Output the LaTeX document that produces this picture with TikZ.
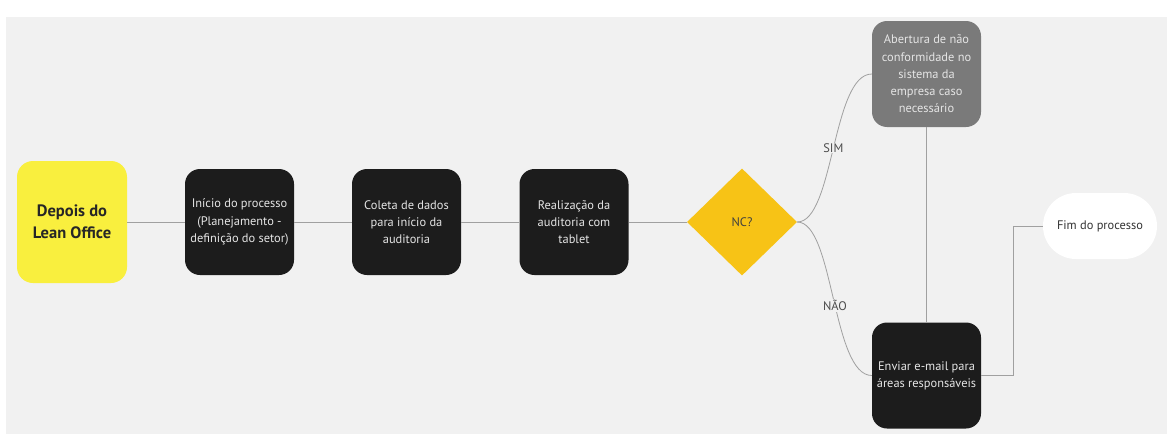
\documentclass[tikz,border=0pt]{standalone}
\usepackage{fontspec}
\setmainfont{PT Sans}
\usetikzlibrary{shapes.geometric}
\definecolor{bg}{HTML}{F1F1F1}
\definecolor{boxblack}{HTML}{1C1C1C}
\definecolor{boxgray}{HTML}{7A7A7A}
\definecolor{yel}{HTML}{F9EF3E}
\definecolor{dia}{HTML}{F7C316}
\definecolor{ln}{HTML}{A0A0A0}
\tikzset{
  procbox/.style={rounded corners=15pt, fill=boxblack, text=white!90!black, minimum width=109pt, minimum height=106pt, align=center, font=\fontsize{12.4}{17.2}\selectfont, inner sep=1pt},
  graybox/.style={procbox, fill=boxgray},
  startbox/.style={rounded corners=16pt, fill=yel, text=black!85, minimum width=110pt, minimum height=122pt, align=center, font=\fontsize{16.5}{22}\selectfont\bfseries},
  decision/.style={diamond, fill=dia, minimum width=110pt, minimum height=107pt, inner sep=0pt, font=\fontsize{12.4}{14}\selectfont, text=black!75},
  endbox/.style={rounded corners=33pt, fill=white, minimum width=114pt, minimum height=66pt, font=\fontsize{12.4}{14}\selectfont, text=black!80},
  conn/.style={draw=ln, line width=0.8pt},
  lbl/.style={fill=bg, inner sep=1pt, font=\fontsize{12.4}{14}\selectfont, text=black!70}
}
\begin{document}
\begin{tikzpicture}[x=1pt,y=-1pt]
\useasboundingbox (0,0) rectangle (1167,434);
\fill[white] (0,0) rectangle (1167,434);
\fill[bg] (6,17) rectangle (1167,434);
\node[startbox] (start) at (72,222) {Depois do\\Lean Office};
\node[procbox] (b1) at (239.5,222) {Início do processo\\(Planejamento -\\definição do setor)};
\node[procbox] (b2) at (406.5,222) {Coleta de dados\\para início da\\auditoria};
\node[procbox] (b3) at (574,222) {Realização da\\auditoria com\\tablet};
\node[decision] (nc) at (742,222) {NC?};
\node[graybox] (nc1) at (926.5,74) {Abertura de não\\conformidade no\\sistema da\\empresa caso\\necessário};
\node[procbox] (mail) at (926.5,375.5) {Enviar e-mail para\\áreas responsáveis};
\node[endbox] (fim) at (1100,226) {Fim do processo};
\coordinate (j2) at (1013,226);
\draw[conn] (start.east) -- (b1.west);
\draw[conn] (b1.east) -- (b2.west);
\draw[conn] (b2.east) -- (b3.west);
\draw[conn] (b3.east) -- (nc.west);
\draw[conn] (nc.east) .. controls (834,222) and (832,74) .. (nc1.west) node[lbl, pos=0.5] {SIM};
\draw[conn] (nc.east) .. controls (834,222) and (832,375.5) .. (mail.west) node[lbl, pos=0.53] {NÃO};
\draw[conn] (nc1.south) -- (mail.north);
\draw[conn] (mail.east) -| (j2) -- (fim.west);
\end{tikzpicture}
\end{document}
